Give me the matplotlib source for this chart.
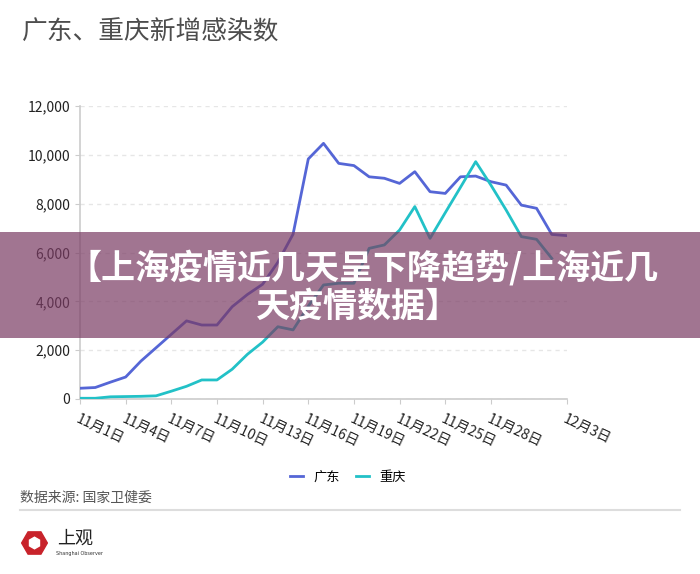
import numpy as np
import matplotlib
matplotlib.use("Agg")
import matplotlib.pyplot as plt
from matplotlib.patches import Rectangle, RegularPolygon
from matplotlib.ticker import FuncFormatter

plt.rcParams['font.family'] = ['Noto Sans CJK SC', 'DejaVu Sans']

# data
dates = ["11月1日", "11月2日", "11月3日", "11月4日", "11月5日", "11月6日", "11月7日",
         "11月8日", "11月9日", "11月10日", "11月11日", "11月12日", "11月13日", "11月14日",
         "11月15日", "11月16日", "11月17日", "11月18日", "11月19日", "11月20日", "11月21日",
         "11月22日", "11月23日", "11月24日", "11月25日", "11月26日", "11月27日", "11月28日",
         "11月29日", "11月30日", "12月1日", "12月2日", "12月3日"]
guangdong = [440, 470, 690, 900, 1550, 2100, 2650, 3200, 3030, 3030, 3780, 4280, 4700, 5600,
             6750, 9830, 10470, 9650, 9560, 9100, 9040, 8830, 9310, 8490, 8420, 9100, 9130,
             8900, 8760, 7940, 7810, 6740, 6690]
chongqing = [30, 30, 90, 100, 110, 130, 320, 520, 780, 780, 1220, 1830, 2330, 2960,
             2830, 3800, 4670, 4740, 4740, 6170, 6310, 6920, 7880, 6580, 7630, 8670, 9720,
             8760, 7740, 6650, 6540, 5760]
tick_idx = [0, 3, 6, 9, 12, 15, 18, 21, 24, 27, 32]

title = "广东、重庆新增感染数"
source = "数据来源: 国家卫健委"
banner_lines = ["【上海疫情近几天呈下降趋势/上海近几", "天疫情数据】"]

fig = plt.figure(figsize=(7, 5.74), dpi=100)
ax = fig.add_axes([80 / 700, 1 - 399 / 574, 487 / 700, 293 / 574])

x = np.arange(len(dates))
ax.plot(x, guangdong, color='#5566d6', lw=2.0, label='广东', zorder=3)
ax.plot(x[:len(chongqing)], chongqing, color='#22c1c7', lw=2.0, label='重庆', zorder=3)

ax.set_xlim(0, len(dates) - 1)
ax.set_ylim(0, 12000)
ax.set_yticks(range(0, 12001, 2000))
ax.yaxis.set_major_formatter(FuncFormatter(lambda v, p: f"{int(v):,}"))
ax.set_xticks(tick_idx)
ax.set_xticklabels([dates[i] for i in tick_idx], rotation=-25, ha='left', va='top',
                   rotation_mode='anchor')
ax.tick_params(axis='both', colors='#cccccc', labelcolor='#222222', labelsize=10, length=3.5)
ax.tick_params(axis='x', pad=6)
ax.grid(axis='y', color='#e6e6e6', ls=(0, (3, 3)), lw=1)
for s in ['top', 'right']:
    ax.spines[s].set_visible(False)
for s in ['left', 'bottom']:
    ax.spines[s].set_color('#cccccc')
    ax.spines[s].set_linewidth(1.2)

fig.text(22 / 700, 1 - 33 / 574, title, fontsize=18.5, color='#4d4d4d', va='center', ha='left')

fig.legend(loc='center', bbox_to_anchor=(348 / 700, 1 - 477 / 574), ncol=2, frameon=False,
           fontsize=9.5, handlelength=1.0, handletextpad=0.8, columnspacing=1.2)

fig.text(20 / 700, 1 - 498 / 574, source, fontsize=10, color='#555555', va='center', ha='left')
fig.add_artist(plt.Line2D([20 / 700, 680 / 700], [1 - 510 / 574] * 2, color='#dddddd', lw=1.5,
                          transform=fig.transFigure))

# logo
lax = fig.add_axes([21 / 700, 1 - 559 / 574, 27 / 700, 32 / 574])
lax.set_xlim(-1.05, 1.05)
lax.set_ylim(-1.05, 1.05)
lax.set_aspect('equal')
lax.axis('off')
lax.add_patch(RegularPolygon((0, 0), 6, radius=1.0, orientation=np.pi / 6, color='#c8232b'))
lax.add_patch(RegularPolygon((0, 0), 6, radius=0.45, orientation=0, color='white'))
fig.text(57 / 700, 1 - 539 / 574, "上观", fontsize=13, color='#222222', va='center', ha='left')
fig.text(56 / 700, 1 - 553 / 574, "Shanghai Observer", fontsize=3.5, color='#333333',
         va='center', ha='left', family=['DejaVu Sans'])

# banner overlay
fig.add_artist(Rectangle((0, 1 - 338 / 574), 1, 106 / 574, transform=fig.transFigure,
                         color='#7a3b63', alpha=0.7, zorder=10, lw=0))
fig.text(363 / 700, 1 - 268 / 574, banner_lines[0], fontsize=24.5, fontweight='bold',
         color='white', ha='center', va='center', zorder=11)
fig.text(358 / 700, 1 - 306 / 574, banner_lines[1], fontsize=24.5, fontweight='bold',
         color='white', ha='center', va='center', zorder=11)

fig.savefig('out.png', dpi=100, facecolor='white')
